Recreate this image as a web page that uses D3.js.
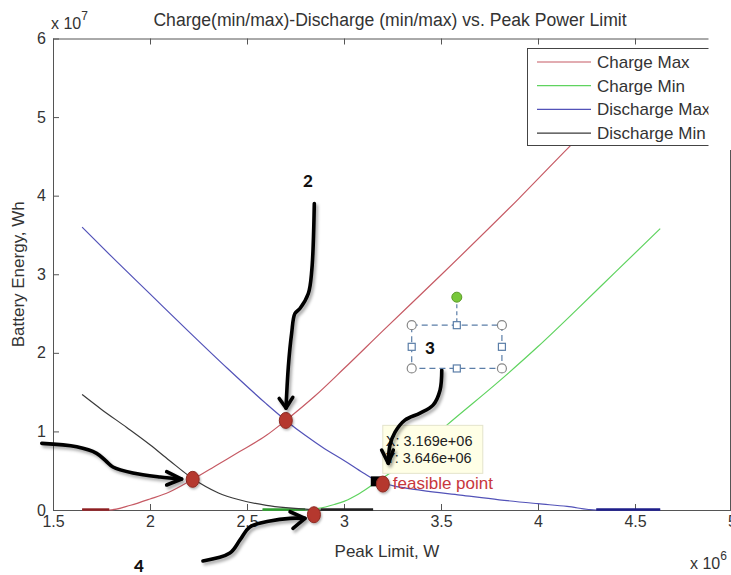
<!DOCTYPE html>
<html><head><meta charset="utf-8">
<script src="https://cdn.jsdelivr.net/npm/d3@7"></script>
<style>body{margin:0;background:#fff} svg{display:block}</style>
</head><body>
<svg id="c" width="731" height="575"></svg>
<script>
// ---------- data (x in 1e6 W, y in 1e7 Wh) ----------
const xTicks = [1.5, 2, 2.5, 3, 3.5, 4, 4.5, 5];
const yTicks = [0, 1, 2, 3, 4, 5, 6];
const seriesNames = ["Charge Max", "Charge Min", "Discharge Max", "Discharge Min"];
const seriesColors = ["#c65a64", "#5fd35f", "#5252b8", "#3a3a3a"];
const zeroColors   = ["#8e1f22", "#2f9e2f", "#1e1e8a", "#222222"];

const chargeMaxX = [1.65,1.79,1.9,2.0,2.1,2.22,2.35,2.46,2.6,2.7,2.85,3.0,3.2,3.5,3.9,4.165,4.4,4.63];
const chargeMaxY = [0,0,0.06,0.14,0.23,0.39,0.58,0.74,0.95,1.14,1.45,1.8,2.28,2.99,3.96,4.63,5.2,5.75];
const chargeMinX = [2.58,2.8,2.87,2.95,3.0,3.08,3.17,3.3,3.53,3.8,4.0,4.2,4.4,4.63];
const chargeMinY = [0,0,0.02,0.07,0.11,0.21,0.36,0.58,1.08,1.64,2.08,2.55,3.03,3.58];
const dischargeMaxX = [1.65,1.8,2.0,2.2,2.4,2.6,2.7,2.8,2.9,3.0,3.1,3.17,3.25,3.4,3.6,3.8,4.0,4.15,4.3,4.63];
const dischargeMaxY = [3.6,3.23,2.75,2.27,1.8,1.35,1.14,0.95,0.78,0.63,0.47,0.37,0.31,0.25,0.19,0.13,0.08,0.045,0,0];
const dischargeMinX = [1.65,1.75,1.88,2.0,2.1,2.22,2.35,2.46,2.6,2.7,2.8,2.88,3.15];
const dischargeMinY = [1.47,1.28,1.05,0.83,0.63,0.40,0.22,0.13,0.06,0.03,0.01,0,0];

const markerPts = [[2.22,0.39],[2.70,1.14],[2.845,-0.06],[3.20,0.33]];
const dataTip = [3.169, 0.3646];
const feasibleLabel = "feasible point";

// annotation arrows, in data units
const arrow1 = [[1.442,0.848],[1.622,0.805],[1.725,0.721],[1.777,0.614],[1.809,0.547],[1.912,0.470],[2.052,0.419],[2.163,0.394]];
const head1  = [[2.086,0.487],[2.163,0.394],[2.086,0.318]];
const arrow2 = [[2.847,3.899],[2.834,3.051],[2.816,2.755],[2.773,2.564],[2.747,2.500],[2.730,2.246],[2.713,1.822],[2.701,1.297]];
const head2  = [[2.666,1.420],[2.701,1.297],[2.736,1.433]];
const arrow3 = [[3.504,1.780],[3.495,1.525],[3.459,1.335],[3.392,1.233],[3.314,1.144],[3.263,0.991],[3.237,0.826],[3.228,0.594]];
const head3  = [[3.194,0.763],[3.228,0.594],[3.254,0.763]];
const arrow4 = [[2.273,-0.648],[2.412,-0.547],[2.464,-0.381],[2.515,-0.216],[2.619,-0.140],[2.722,-0.106],[2.799,-0.106]];
const head4  = [[2.722,-0.022],[2.799,-0.106],[2.737,-0.233]];
const numLabels = [["2",2.814,4.182],["3",3.443,2.059],["4",1.943,-0.71]];
const selBox = [3.349, 3.814, 2.352, 1.801]; // x0,x1,yTop,yBottom

// ---------- layout ----------
const svg = d3.select("#c");
const L = 53, R = 732, T = 38.5, B = 510;
const x = d3.scaleLinear().domain([1.5, 5]).range([L, R]);
const y = d3.scaleLinear().domain([0, 6]).range([B, T]);
const font = "'Liberation Sans', Arial, sans-serif";
const axisCol = "#555";
const txtCol = "#333";

// defs
const defs = svg.append("defs");
const f = defs.append("filter").attr("id","sh").attr("x","-20%").attr("y","-20%").attr("width","140%").attr("height","140%");
f.append("feDropShadow").attr("dx",2).attr("dy",2.5).attr("stdDeviation",1.6).attr("flood-color","#000").attr("flood-opacity",0.35);
const fm = defs.append("filter").attr("id","msh").attr("x","-50%").attr("y","-50%").attr("width","200%").attr("height","200%");
fm.append("feDropShadow").attr("dx",1).attr("dy",1.5).attr("stdDeviation",1).attr("flood-color","#000").attr("flood-opacity",0.3);

// title
svg.append("text").attr("x", 390).attr("y", 26).attr("text-anchor","middle")
  .attr("font-family", font).attr("font-size", 17.6).attr("fill", txtCol)
  .text("Charge(min/max)-Discharge (min/max) vs. Peak Power Limit");

// exponent labels
const e7 = svg.append("text").attr("x", 51).attr("y", 29).attr("font-family", font).attr("font-size", 16).attr("fill", txtCol);
e7.append("tspan").text("x 10");
e7.append("tspan").attr("dy", -9).attr("font-size", 12).text("7");
const e6 = svg.append("text").attr("x", 690).attr("y", 569).attr("font-family", font).attr("font-size", 16).attr("fill", txtCol);
e6.append("tspan").text("x 10");
e6.append("tspan").attr("dy", -9).attr("font-size", 12).text("6");

// axes
const gx = svg.append("g").attr("transform", `translate(0,${B})`)
  .call(d3.axisBottom(x).tickValues(xTicks).tickFormat(d3.format("~g")).tickSizeInner(-6).tickSizeOuter(0).tickPadding(6));
const gxt = svg.append("g").attr("transform", `translate(0,${T})`)
  .call(d3.axisTop(x).tickValues(xTicks).tickFormat("").tickSizeInner(-6).tickSizeOuter(0));
const gy = svg.append("g").attr("transform", `translate(${L},0)`)
  .call(d3.axisLeft(y).tickValues(yTicks).tickFormat(d3.format("d")).tickSizeInner(-6).tickSizeOuter(0).tickPadding(7));
[gx, gxt, gy].forEach(g => {
  g.select(".domain").attr("stroke", axisCol);
  g.selectAll(".tick line").attr("stroke", axisCol);
  g.selectAll("text").attr("font-family", font).attr("font-size", 16).attr("fill", txtCol);
});
// right border (partially visible)
svg.append("line").attr("x1", 730.5).attr("x2", 730.5).attr("y1", 150).attr("y2", B).attr("stroke", axisCol);

// axis labels
svg.append("text").attr("x", 387).attr("y", 557).attr("text-anchor","middle")
  .attr("font-family", font).attr("font-size", 17).attr("fill", txtCol).text("Peak Limit, W");
svg.append("text").attr("transform", `translate(24,${(T+B)/2}) rotate(-90)`).attr("text-anchor","middle")
  .attr("font-family", font).attr("font-size", 17).attr("fill", txtCol).text("Battery Energy, Wh");

// series
const seriesX = [chargeMaxX, chargeMinX, dischargeMaxX, dischargeMinX];
const seriesY = [chargeMaxY, chargeMinY, dischargeMaxY, dischargeMinY];
const line = d3.line().x(d => x(d[0])).y(d => y(d[1])).curve(d3.curveMonotoneX);
const plot = svg.append("g");
seriesX.forEach((xs, i) => {
  const pts = xs.map((v, j) => [v, seriesY[i][j]]);
  plot.append("path").attr("d", line(pts)).attr("fill","none")
    .attr("stroke", seriesColors[i]).attr("stroke-width", 1.2);
  const zero = pts.filter(p => p[1] === 0);
  if (zero.length > 1) {
    plot.append("path").attr("d", d3.line().x(d => x(d[0])).y(d => y(d[1]) - 0.5)(zero))
      .attr("fill","none").attr("stroke", zeroColors[i]).attr("stroke-width", 2.4);
  }
});

// legend
const lg = svg.append("g");
lg.append("rect").attr("x", 527.5).attr("y", 48.5).attr("width", 200).attr("height", 97)
  .attr("fill","#fff").attr("stroke","#444");
seriesNames.forEach((n, i) => {
  const yy = 62 + i * 23.7;
  lg.append("line").attr("x1", 537).attr("x2", 591).attr("y1", yy).attr("y2", yy)
    .attr("stroke", seriesColors[i]).attr("stroke-width", 1.2);
  lg.append("text").attr("x", 597).attr("y", yy + 6).attr("font-family", font)
    .attr("font-size", 17).attr("fill", txtCol).text(n);
});
// white cover (cropped original)
svg.append("rect").attr("x", 708.5).attr("y", 0).attr("width", 30).attr("height", 149).attr("fill","#fff");

// data tip
const tx = x(dataTip[0]), ty = y(dataTip[1]);
const fmt = v => { const s = (v*1e6).toExponential(3); return s.replace(/e([+-])(\d)$/, "e$10$2"); };
svg.append("rect").attr("x", tx + 6).attr("y", ty - 56).attr("width", 100).attr("height", 48)
  .attr("fill","#ffffe6").attr("stroke","#e4e4cc");
svg.append("text").attr("x", tx + 9).attr("y", ty - 35).attr("font-family", font).attr("font-size", 14.5)
  .attr("fill","#222").text("X: " + fmt(dataTip[0]));
svg.append("text").attr("x", tx + 9).attr("y", ty - 18).attr("font-family", font).attr("font-size", 14.5)
  .attr("fill","#222").text("Y: " + fmt(dataTip[1] * 10));
svg.append("rect").attr("x", tx - 6).attr("y", ty - 5).attr("width", 10).attr("height", 10).attr("fill","#000");
svg.append("text").attr("x", tx + 16).attr("y", ty + 8).attr("font-family", font).attr("font-size", 17)
  .attr("fill","#c8373c").text(feasibleLabel);

// markers
svg.selectAll("ellipse.m").data(markerPts).join("ellipse").attr("class","m")
  .attr("cx", d => x(d[0])).attr("cy", d => y(d[1])).attr("rx", 6.5).attr("ry", 8)
  .attr("fill","#b5392f").attr("stroke","#8c2a22").attr("stroke-width", 1).attr("filter","url(#msh)");

// arrows
const aline = d3.line().x(d => x(d[0])).y(d => y(d[1])).curve(d3.curveCatmullRom.alpha(0.5));
const pline = d3.line().x(d => x(d[0])).y(d => y(d[1]));
const ag = svg.append("g").attr("filter","url(#sh)");
[[arrow1, head1], [arrow2, head2], [arrow3, head3], [arrow4, head4]].forEach(([a, h]) => {
  ag.append("path").attr("d", aline(a)).attr("fill","none").attr("stroke","#000")
    .attr("stroke-width", 3.6).attr("stroke-linecap","round");
  ag.append("path").attr("d", pline(h)).attr("fill","none").attr("stroke","#000")
    .attr("stroke-width", 3.6).attr("stroke-linecap","round").attr("stroke-linejoin","round");
});

// selection box
const sx0 = x(selBox[0]), sx1 = x(selBox[1]), sy0 = y(selBox[2]), sy1 = y(selBox[3]);
const mx = (sx0 + sx1) / 2, my = (sy0 + sy1) / 2;
const sg = svg.append("g");
sg.append("rect").attr("x", sx0).attr("y", sy0).attr("width", sx1 - sx0).attr("height", sy1 - sy0)
  .attr("fill","none").attr("stroke","#5b7ea8").attr("stroke-width", 1.2).attr("stroke-dasharray","6,4");
sg.append("line").attr("x1", mx).attr("x2", mx).attr("y1", sy0 - 28).attr("y2", sy0)
  .attr("stroke","#5b7ea8").attr("stroke-width", 1.2).attr("stroke-dasharray","4,3");
[[sx0,sy0],[sx1,sy0],[sx0,sy1],[sx1,sy1]].forEach(p => sg.append("circle").attr("cx", p[0]).attr("cy", p[1])
  .attr("r", 4.5).attr("fill","#fff").attr("stroke","#888").attr("stroke-width", 1.2));
[[mx,sy0],[mx,sy1],[sx0,my],[sx1,my]].forEach(p => sg.append("rect").attr("x", p[0]-3.5).attr("y", p[1]-3.5)
  .attr("width", 7).attr("height", 7).attr("fill","#fff").attr("stroke","#5b7ea8").attr("stroke-width", 1.2));
sg.append("circle").attr("cx", mx).attr("cy", sy0 - 28).attr("r", 5).attr("fill","#78c83a").attr("stroke","#5a9a28");

// number labels
numLabels.forEach(([t, a, b]) => svg.append("text").attr("x", x(a)).attr("y", y(b) + 6).attr("text-anchor","middle")
  .attr("font-family","Lato, 'Open Sans', sans-serif").attr("font-weight", 900).attr("font-size", 17)
  .attr("fill","#111").text(t));
</script>
</body></html>
